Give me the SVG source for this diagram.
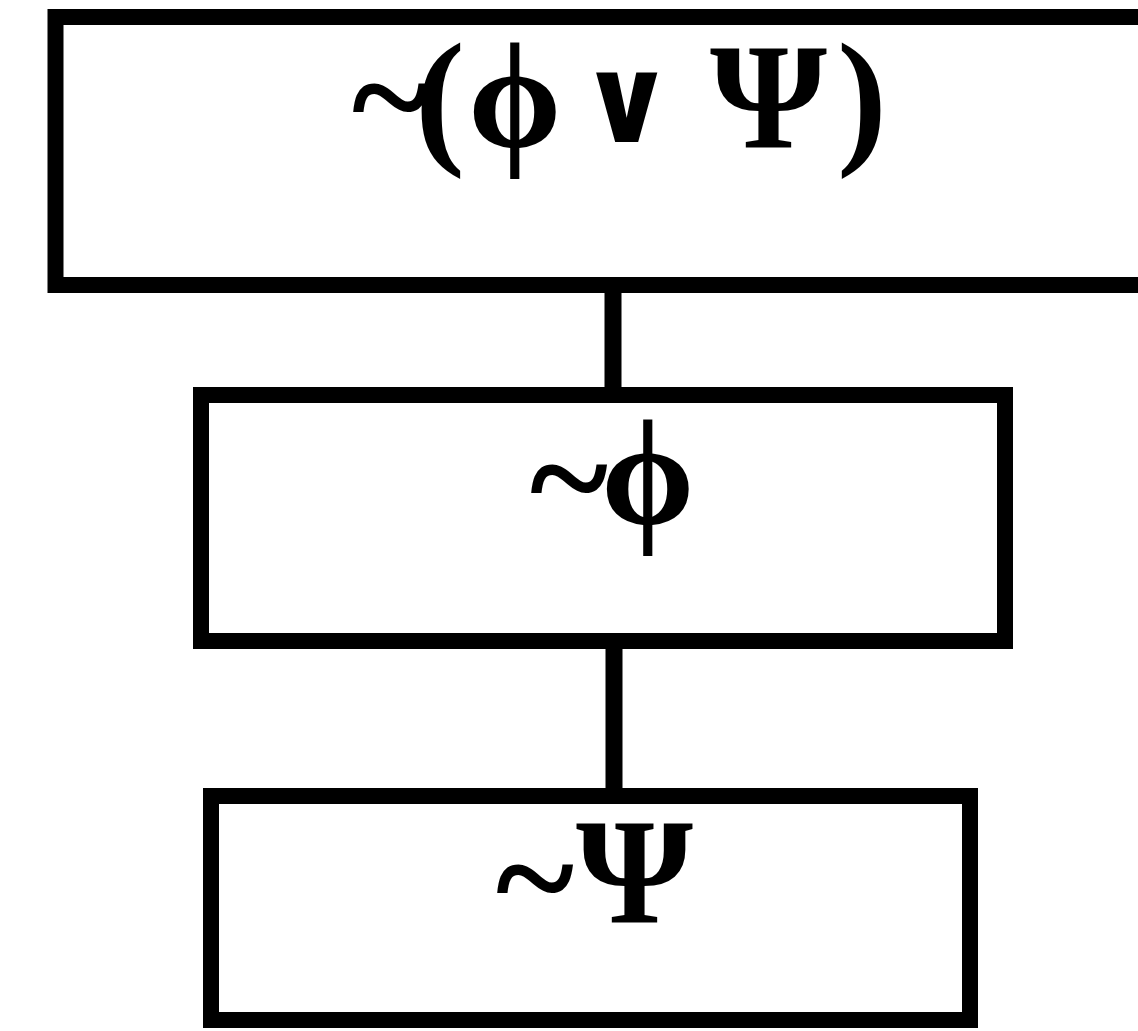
<svg xmlns="http://www.w3.org/2000/svg" width="1138" height="1031" viewBox="0 0 1138 1031">
<style>
.box{fill:#fff;stroke:#000;stroke-width:16}
.conn{stroke:#000;stroke-width:17;fill:none}
.lbl{font-family:"Liberation Serif","DejaVu Serif",serif;font-weight:bold;font-size:150px;fill:#000}
.or{font-family:"DejaVu Sans",sans-serif;font-weight:bold;font-size:120px}
</style>
<rect width="1138" height="1031" fill="#fff"/>
<g id="connectors">
<line class="conn" x1="613" y1="290" x2="613" y2="390"/>
<line class="conn" x1="614" y1="646" x2="614" y2="792"/>
</g>
<g id="node-top">
<rect class="box" x="55.5" y="17" width="1100" height="268"/>
<text class="lbl" x="352" y="147" letter-spacing="-15">~(</text>
<text class="lbl" y="147"><tspan x="468">ϕ</tspan><tspan class="or" x="578" y="142">∨</tspan><tspan x="710" y="147">Ψ</tspan><tspan x="837">)</tspan></text>
</g>
<g id="node-middle">
<rect class="box" x="201" y="395" width="804" height="246"/>
<text class="lbl" y="524"><tspan x="530" y="528">~</tspan><tspan x="601" y="524">ϕ</tspan></text>
</g>
<g id="node-bottom">
<rect class="box" x="211" y="796" width="759" height="224"/>
<text class="lbl" y="922"><tspan x="496" y="928">~</tspan><tspan x="576" y="922">Ψ</tspan></text>
</g>
</svg>
